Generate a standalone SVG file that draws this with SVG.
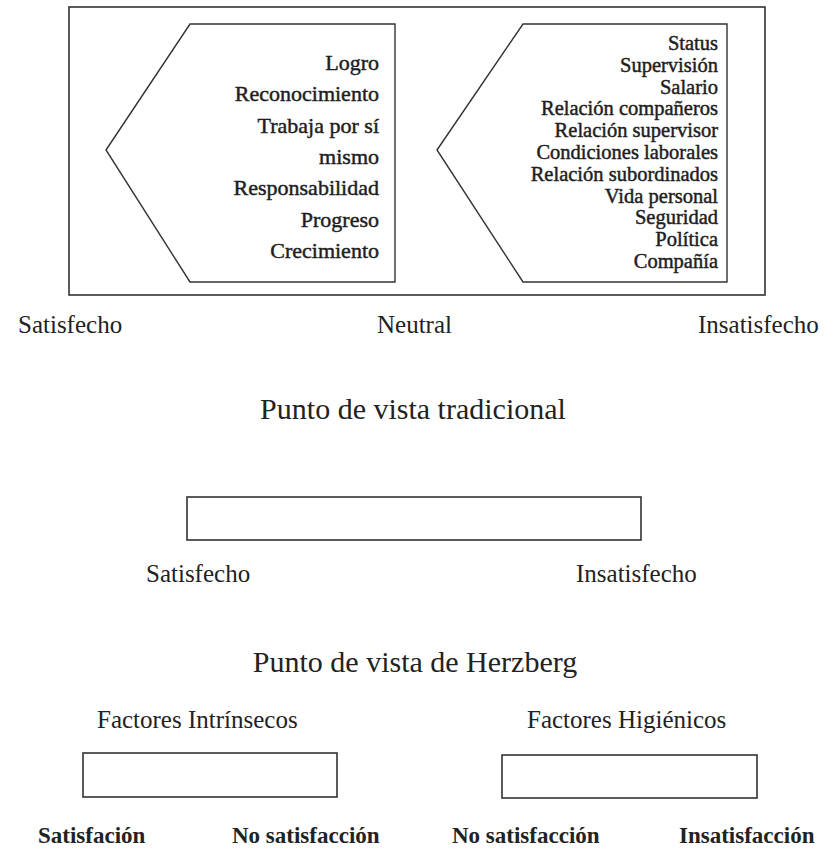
<svg xmlns="http://www.w3.org/2000/svg" width="835" height="850" viewBox="0 0 835 850">
<style>
.box{fill:#fff;stroke:#333;stroke-width:1.6}
.shape{fill:none;stroke:#333;stroke-width:1.4}
.lst{font-family:"Liberation Serif","Times New Roman",serif;fill:#1e1e1e;stroke:#1e1e1e;stroke-width:0.45;text-anchor:end}
.lt{font-size:22px}
.rt{font-size:20.5px}
.lab{font-family:"Liberation Serif","Times New Roman",serif;font-size:25px;fill:#222}
.ttl{font-family:"Liberation Serif","Times New Roman",serif;font-size:30px;fill:#222;text-anchor:middle}
.bl{font-family:"Liberation Serif","Times New Roman",serif;font-size:23px;font-weight:bold;fill:#222}
</style>
<rect width="835" height="850" fill="#fff"/>
<g id="outer-box"><rect class="box" x="69" y="7" width="696" height="288"/></g>
<g id="intrinsic-factors">
<polygon class="shape" points="106,150 190,24 395,24 395,282 190,282"/>
<text class="lst lt" x="379" y="70">Logro</text>
<text class="lst lt" x="379" y="101">Reconocimiento</text>
<text class="lst lt" x="379" y="133">Trabaja por sí</text>
<text class="lst lt" x="379" y="164">mismo</text>
<text class="lst lt" x="379" y="195">Responsabilidad</text>
<text class="lst lt" x="379" y="227">Progreso</text>
<text class="lst lt" x="379" y="258">Crecimiento</text>
</g>
<g id="hygiene-factors">
<polygon class="shape" points="437,150 523,24 727,24 727,282 523,282"/>
<text class="lst rt" x="718" y="50">Status</text>
<text class="lst rt" x="718" y="72">Supervisión</text>
<text class="lst rt" x="718" y="94">Salario</text>
<text class="lst rt" x="718" y="115">Relación compañeros</text>
<text class="lst rt" x="718" y="137">Relación supervisor</text>
<text class="lst rt" x="718" y="159">Condiciones laborales</text>
<text class="lst rt" x="718" y="181">Relación subordinados</text>
<text class="lst rt" x="718" y="203">Vida personal</text>
<text class="lst rt" x="718" y="224">Seguridad</text>
<text class="lst rt" x="718" y="246">Política</text>
<text class="lst rt" x="718" y="268">Compañía</text>
</g>
<g id="scale-labels">
<text class="lab" x="18" y="333">Satisfecho</text>
<text class="lab" x="377" y="333">Neutral</text>
<text class="lab" x="698" y="333">Insatisfecho</text>
</g>
<g id="traditional">
<text class="ttl" x="413" y="419">Punto de vista tradicional</text>
<rect class="box" x="187" y="497" width="454" height="43"/>
<text class="lab" x="146" y="582">Satisfecho</text>
<text class="lab" x="576" y="582">Insatisfecho</text>
</g>
<g id="herzberg">
<text class="ttl" x="415" y="672">Punto de vista de Herzberg</text>
</g>
<g id="intrinsic-bar">
<text class="lab" x="97" y="728">Factores Intrínsecos</text>
<rect class="box" x="83" y="753" width="254" height="44"/>
<text class="bl" x="38" y="843">Satisfación</text>
<text class="bl" x="232" y="843">No satisfacción</text>
</g>
<g id="hygiene-bar">
<text class="lab" x="527" y="728">Factores Higiénicos</text>
<rect class="box" x="502" y="755" width="255" height="43"/>
<text class="bl" x="452" y="843">No satisfacción</text>
<text class="bl" x="679" y="843">Insatisfacción</text>
</g>
<g id="connectors"></g>
</svg>
